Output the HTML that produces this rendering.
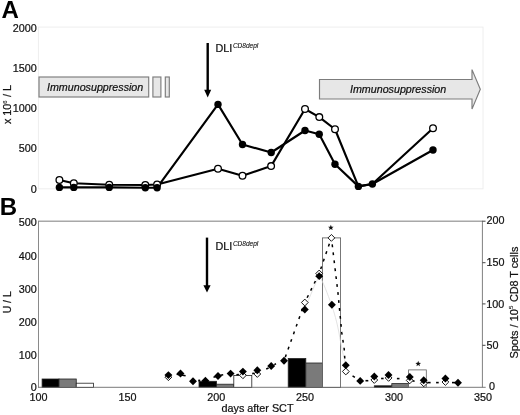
<!DOCTYPE html>
<html>
<head>
<meta charset="utf-8">
<title>Figure</title>
<style>
html,body{margin:0;padding:0;background:#fff;}
body{width:520px;height:415px;overflow:hidden;font-family:"Liberation Sans",sans-serif;}
svg{display:block;position:absolute;left:0;top:0;will-change:transform;}
text{font-family:"Liberation Sans",sans-serif;fill:#111;stroke:#111;stroke-width:0.22px;}
.ax{font-size:10.8px;}
.it{font-style:italic;font-size:10.7px;}
.pl{font-weight:bold;font-size:24px;fill:#000;stroke:none;}
</style>
</head>
<body>
<svg width="520" height="415" viewBox="0 0 520 415">
<rect x="0" y="0" width="520" height="415" fill="#ffffff"/>

<!-- ================= PANEL A ================= -->
<text class="pl" x="1.6" y="18">A</text>
<!-- faint frame -->
<rect x="38.4" y="27.1" width="444.6" height="161.7" fill="none" stroke="#eeeeee" stroke-width="1"/>
<!-- y labels -->
<g class="ax" text-anchor="end">
<text x="36.7" y="31.5">2000</text>
<text x="36.7" y="71.8">1500</text>
<text x="36.7" y="112.2">1000</text>
<text x="36.7" y="151.9">500</text>
<text x="36.7" y="192.8">0</text>
</g>
<text class="ax" transform="translate(11.3,104.5) rotate(-90)" text-anchor="middle">x 10<tspan font-size="5.9" dy="-4.2" stroke-width="0.12">6</tspan><tspan dy="4.2" dx="0.4"> / L</tspan></text>

<!-- immunosuppression boxes -->
<g fill="#e7e7e7" stroke="#7c7c7c" stroke-width="1.15">
<rect x="39" y="77" width="109.7" height="20"/>
<rect x="152.9" y="77" width="8" height="20"/>
<rect x="165.3" y="77" width="4" height="20"/>
<path d="M319.5 79.5 H472 V69.6 L480.3 89.3 L472 109.1 V99 H319.5 Z"/>
</g>
<text class="it" x="47" y="90.8">Immunosuppression</text>
<text class="it" x="350" y="93.4">Immunosuppression</text>

<!-- DLI arrow A -->
<line x1="207.7" y1="43" x2="207.7" y2="91" stroke="#000" stroke-width="2.4"/>
<path d="M204.2 89.8 L211.2 89.8 L207.7 97.5 Z" fill="#000"/>
<text class="ax" x="215.5" y="51.6">DLI<tspan font-size="6.5" font-style="italic" dy="-4" dx="0.6" stroke-width="0.1">CD8depl</tspan></text>

<!-- series open -->
<polyline fill="none" stroke="#000" stroke-width="2.15" stroke-linejoin="round"
 points="59.4,180 73.8,183.3 109.25,184.8 145.3,185 157.1,184.5 218,168.7 242.5,175.8 271.1,166.1 305,109 319.3,117.1 335,129.25 358.4,186.4 372.4,184 433,128.3"/>
<!-- series filled -->
<polyline fill="none" stroke="#000" stroke-width="2.15" stroke-linejoin="round"
 points="59.4,187.4 73.8,187.4 109.25,187.4 145.3,187.7 157.1,187.7 218,104.4 242.5,144.5 271.2,152.5 305,130.5 319.25,134.25 335,164.25 358.4,186.4 372.4,184 433,150"/>
<g fill="#fff" stroke="#000" stroke-width="1.3">
<circle cx="59.4" cy="180" r="3.35"/><circle cx="73.8" cy="183.3" r="3.35"/><circle cx="109.25" cy="184.8" r="3.35"/>
<circle cx="145.3" cy="185" r="3.35"/><circle cx="157.1" cy="184.5" r="3.35"/><circle cx="218" cy="168.7" r="3.35"/>
<circle cx="242.5" cy="175.8" r="3.35"/><circle cx="271.1" cy="166.1" r="3.35"/><circle cx="305" cy="109" r="3.35"/>
<circle cx="319.3" cy="117.1" r="3.35"/><circle cx="335" cy="129.25" r="3.35"/><circle cx="433" cy="128.3" r="3.35"/>
</g>
<g fill="#000">
<circle cx="59.4" cy="187.4" r="3.7"/><circle cx="73.8" cy="187.4" r="3.7"/><circle cx="109.25" cy="187.4" r="3.7"/>
<circle cx="145.3" cy="187.7" r="3.7"/><circle cx="157.1" cy="187.7" r="3.7"/><circle cx="218" cy="104.4" r="3.7"/>
<circle cx="242.5" cy="144.5" r="3.7"/><circle cx="271.2" cy="152.5" r="3.7"/><circle cx="305" cy="130.5" r="3.7"/>
<circle cx="319.25" cy="134.25" r="3.7"/><circle cx="335" cy="164.25" r="3.7"/><circle cx="358.4" cy="186.4" r="3.7"/>
<circle cx="372.4" cy="184" r="3.7"/><circle cx="433" cy="150" r="3.7"/>
</g>

<!-- ================= PANEL B ================= -->
<text class="pl" x="-0.2" y="214.8">B</text>
<g class="ax" text-anchor="end">
<text x="36.8" y="226.3">500</text>
<text x="36.8" y="259.8">400</text>
<text x="36.8" y="292.9">300</text>
<text x="36.8" y="326.2">200</text>
<text x="36.8" y="359.1">100</text>
<text x="36.8" y="390.7">0</text>
</g>
<g class="ax">
<text x="486.6" y="224.2">200</text>
<text x="486.6" y="265.6">150</text>
<text x="486.3" y="307.8">100</text>
<text x="486.5" y="348.7">50</text>
<text x="489" y="390.3">0</text>
</g>
<g class="ax" text-anchor="middle">
<text x="38.5" y="400.7">100</text>
<text x="127.5" y="400.7">150</text>
<text x="216.2" y="400.7">200</text>
<text x="305" y="400.7">250</text>
<text x="394" y="400.7">300</text>
<text x="483" y="400.7">350</text>
<text x="257.5" y="412">days after SCT</text>
</g>
<text class="ax" transform="translate(11,302.3) rotate(-90)" text-anchor="middle" style="font-size:10.4px">U / L</text>
<text class="ax" transform="translate(517.6,358.6) rotate(-90)" text-anchor="start"><tspan font-size="11">Spots / 10</tspan><tspan font-size="6" dy="-4.3" stroke-width="0.12">5</tspan><tspan dy="4.3" dx="0.6" font-size="10.8"> CD8 T cells</tspan></text>

<!-- bars -->
<g stroke="#222" stroke-width="0.8">
<rect x="42.1" y="379" width="16.9" height="8.4" fill="#000"/>
<rect x="59" y="379" width="17.25" height="8.4" fill="#7a7a7a"/>
<rect x="76.25" y="383.2" width="17.25" height="4.2" fill="#fff"/>

<rect x="199" y="381.3" width="17.5" height="6.1" fill="#000"/>
<rect x="216.5" y="384.2" width="17.3" height="3.2" fill="#7a7a7a"/>
<rect x="233.8" y="375.4" width="18" height="12" fill="#fff"/>

<rect x="288.2" y="358.5" width="17.6" height="28.9" fill="#000"/>
<rect x="305.8" y="363" width="16.7" height="24.4" fill="#7a7a7a"/>
<rect x="322.5" y="237.9" width="18.1" height="149.5" fill="#fff" stroke="#555"/>

<rect x="374.3" y="385.8" width="17.5" height="1.6" fill="#000"/>
<rect x="391.8" y="383.6" width="17" height="3.8" fill="#7a7a7a"/>
<rect x="408.6" y="369.9" width="17.7" height="17.3" fill="#fff" stroke="#606060"/>
</g>

<!-- frame B -->
<line x1="38" y1="221.2" x2="483" y2="221.2" stroke="#a8a8a8" stroke-width="1.4"/>
<line x1="38.5" y1="221" x2="38.5" y2="387.4" stroke="#8a8a8a" stroke-width="1"/>
<line x1="482.4" y1="221" x2="482.4" y2="387.4" stroke="#808080" stroke-width="1"/>
<line x1="38" y1="387.3" x2="485.7" y2="387.3" stroke="#6a6a6a" stroke-width="0.9"/>
<g stroke="#444" stroke-width="1">
<line x1="482.4" y1="221.2" x2="485.5" y2="221.2"/>
<line x1="482.4" y1="262.7" x2="485.5" y2="262.7"/>
<line x1="482.4" y1="303.9" x2="485.5" y2="303.9"/>
<line x1="482.4" y1="345.3" x2="485.5" y2="345.3"/>
</g>

<!-- DLI arrow B -->
<line x1="207" y1="237.6" x2="207" y2="287" stroke="#000" stroke-width="2.4"/>
<path d="M203.4 285.2 L210.6 285.2 L207 292.5 Z" fill="#000"/>
<text class="ax" x="215.5" y="250.1">DLI<tspan font-size="6.5" font-style="italic" dy="-4" dx="0.6" stroke-width="0.1">CD8depl</tspan></text>

<!-- faint smoothed line of filled series -->
<path d="M304.8 309.5 C310 296 315 284 319.2 276 C323 281 327.5 294 331.7 305 C334 312 337 322 339 333 C341 345 343.5 357 345.8 365.2" fill="none" stroke="#dadada" stroke-width="0.8"/>
<!-- dotted curve -->
<g stroke="#000" stroke-width="1.6">
<line x1="176.6" y1="374.3" x2="185.6" y2="375.8"/>
<line x1="198.2" y1="380.6" x2="200.2" y2="380.3"/>
<line x1="213.5" y1="377.3" x2="216" y2="376.6"/>
<line x1="220.5" y1="375.2" x2="223.2" y2="374.8"/>
<line x1="236.4" y1="374.7" x2="238.9" y2="374.5"/>
<line x1="252.2" y1="373.6" x2="254.4" y2="373.3"/>
<line x1="266.2" y1="368.9" x2="268.6" y2="368"/>
<line x1="274.3" y1="364.6" x2="276" y2="363.8"/>
<line x1="365.5" y1="380.7" x2="368.3" y2="380.7"/>
<line x1="381.1" y1="378.5" x2="383.6" y2="378.5"/>
<line x1="396.9" y1="378.6" x2="399.5" y2="378.6"/>
<line x1="412.4" y1="380.8" x2="414.6" y2="381.3"/>
<line x1="427.2" y1="382.6" x2="430.6" y2="382.6"/>
<line x1="436.1" y1="382.6" x2="438.7" y2="382.6"/>
<line x1="452" y1="382.6" x2="455" y2="382.6"/>
</g>
<g fill="none" stroke="#000" stroke-width="1.5">
<path stroke-dasharray="2.8 5.3" stroke-dashoffset="-3.9" d="M284 360.8 L304.8 302.4"/>
<path stroke-dasharray="2.8 5.15" stroke-dashoffset="-5.2" d="M304.8 302.4 L319.2 273.4 L331.4 237.9"/>
<path stroke-dasharray="2.8 5.2" stroke-dashoffset="1.4" d="M331.4 237.9 L338 293.2 L341.8 332.9 L344.2 349 L345.6 371.4 L360.2 380.9"/>
</g>

<!-- diamonds: open first then filled -->
<g id="odia" fill="#fff" stroke="#000" stroke-width="0.9">
<path d="M168.4 373.80 l3.4 3.4 l-3.4 3.4 l-3.4 -3.4z"/>
<path d="M242.9 371.90 l3.4 3.4 l-3.4 3.4 l-3.4 -3.4z"/>
<path d="M257.3 370.60 l3.4 3.4 l-3.4 3.4 l-3.4 -3.4z"/>
<path d="M304.8 299.10 l3.4 3.4 l-3.4 3.4 l-3.4 -3.4z"/>
<path d="M319.2 270.10 l3.4 3.4 l-3.4 3.4 l-3.4 -3.4z"/>
<path d="M331.4 234.50 l3.4 3.4 l-3.4 3.4 l-3.4 -3.4z"/>
<path d="M345.8 368.10 l3.4 3.4 l-3.4 3.4 l-3.4 -3.4z"/>
<path d="M374.3 376.60 l3.4 3.4 l-3.4 3.4 l-3.4 -3.4z"/>
<path d="M388.6 374.50 l3.4 3.4 l-3.4 3.4 l-3.4 -3.4z"/>
<path d="M409.7 377.00 l3.4 3.4 l-3.4 3.4 l-3.4 -3.4z"/>
<path d="M423.8 379.90 l3.4 3.4 l-3.4 3.4 l-3.4 -3.4z"/>
<path d="M445.4 378.60 l3.4 3.4 l-3.4 3.4 l-3.4 -3.4z"/>
</g>
<g id="fdia" fill="#000">
<path d="M168.4 371.15 l3.95 3.95 l-3.95 3.95 l-3.95 -3.95z"/>
<path d="M180.5 369.55 l3.95 3.95 l-3.95 3.95 l-3.95 -3.95z"/>
<path d="M193 377.25 l3.95 3.95 l-3.95 3.95 l-3.95 -3.95z"/>
<path d="M205.4 376.85 l3.95 3.95 l-3.95 3.95 l-3.95 -3.95z"/>
<path d="M218 372.05 l3.95 3.95 l-3.95 3.95 l-3.95 -3.95z"/>
<path d="M230.6 369.65 l3.95 3.95 l-3.95 3.95 l-3.95 -3.95z"/>
<path d="M242.9 367.65 l3.95 3.95 l-3.95 3.95 l-3.95 -3.95z"/>
<path d="M257.3 366.35 l3.95 3.95 l-3.95 3.95 l-3.95 -3.95z"/>
<path d="M271.2 362.05 l3.95 3.95 l-3.95 3.95 l-3.95 -3.95z"/>
<path d="M284 356.85 l3.95 3.95 l-3.95 3.95 l-3.95 -3.95z"/>
<path d="M304.8 305.6 l3.95 3.95 l-3.95 3.95 l-3.95 -3.95z"/>
<path d="M319.2 272.2 l3.95 3.95 l-3.95 3.95 l-3.95 -3.95z"/>
<path d="M331.9 300.75 l3.95 3.95 l-3.95 3.95 l-3.95 -3.95z"/>
<path d="M345.8 361.25 l3.95 3.95 l-3.95 3.95 l-3.95 -3.95z"/>
<path d="M360.2 376.95 l3.95 3.95 l-3.95 3.95 l-3.95 -3.95z"/>
<path d="M374.3 372.55 l3.95 3.95 l-3.95 3.95 l-3.95 -3.95z"/>
<path d="M388.5 371.05 l3.95 3.95 l-3.95 3.95 l-3.95 -3.95z"/>
<path d="M409.8 373.05 l3.95 3.95 l-3.95 3.95 l-3.95 -3.95z"/>
<path d="M423.7 376.35 l3.95 3.95 l-3.95 3.95 l-3.95 -3.95z"/>
<path d="M445.4 374.55 l3.95 3.95 l-3.95 3.95 l-3.95 -3.95z"/>
<path d="M458 378.85 l3.95 3.95 l-3.95 3.95 l-3.95 -3.95z"/>
</g>

<!-- stars -->
<polygon points="330.85,224.75 331.61,226.65 333.66,226.79 332.09,228.10 332.58,230.09 330.85,229.00 329.12,230.09 329.61,228.10 328.04,226.79 330.09,226.65" fill="#111"/>
<polygon points="418.20,360.85 418.96,362.75 421.01,362.89 419.44,364.20 419.93,366.19 418.20,365.10 416.47,366.19 416.96,364.20 415.39,362.89 417.44,362.75" fill="#111"/>
</svg>
</body>
</html>
